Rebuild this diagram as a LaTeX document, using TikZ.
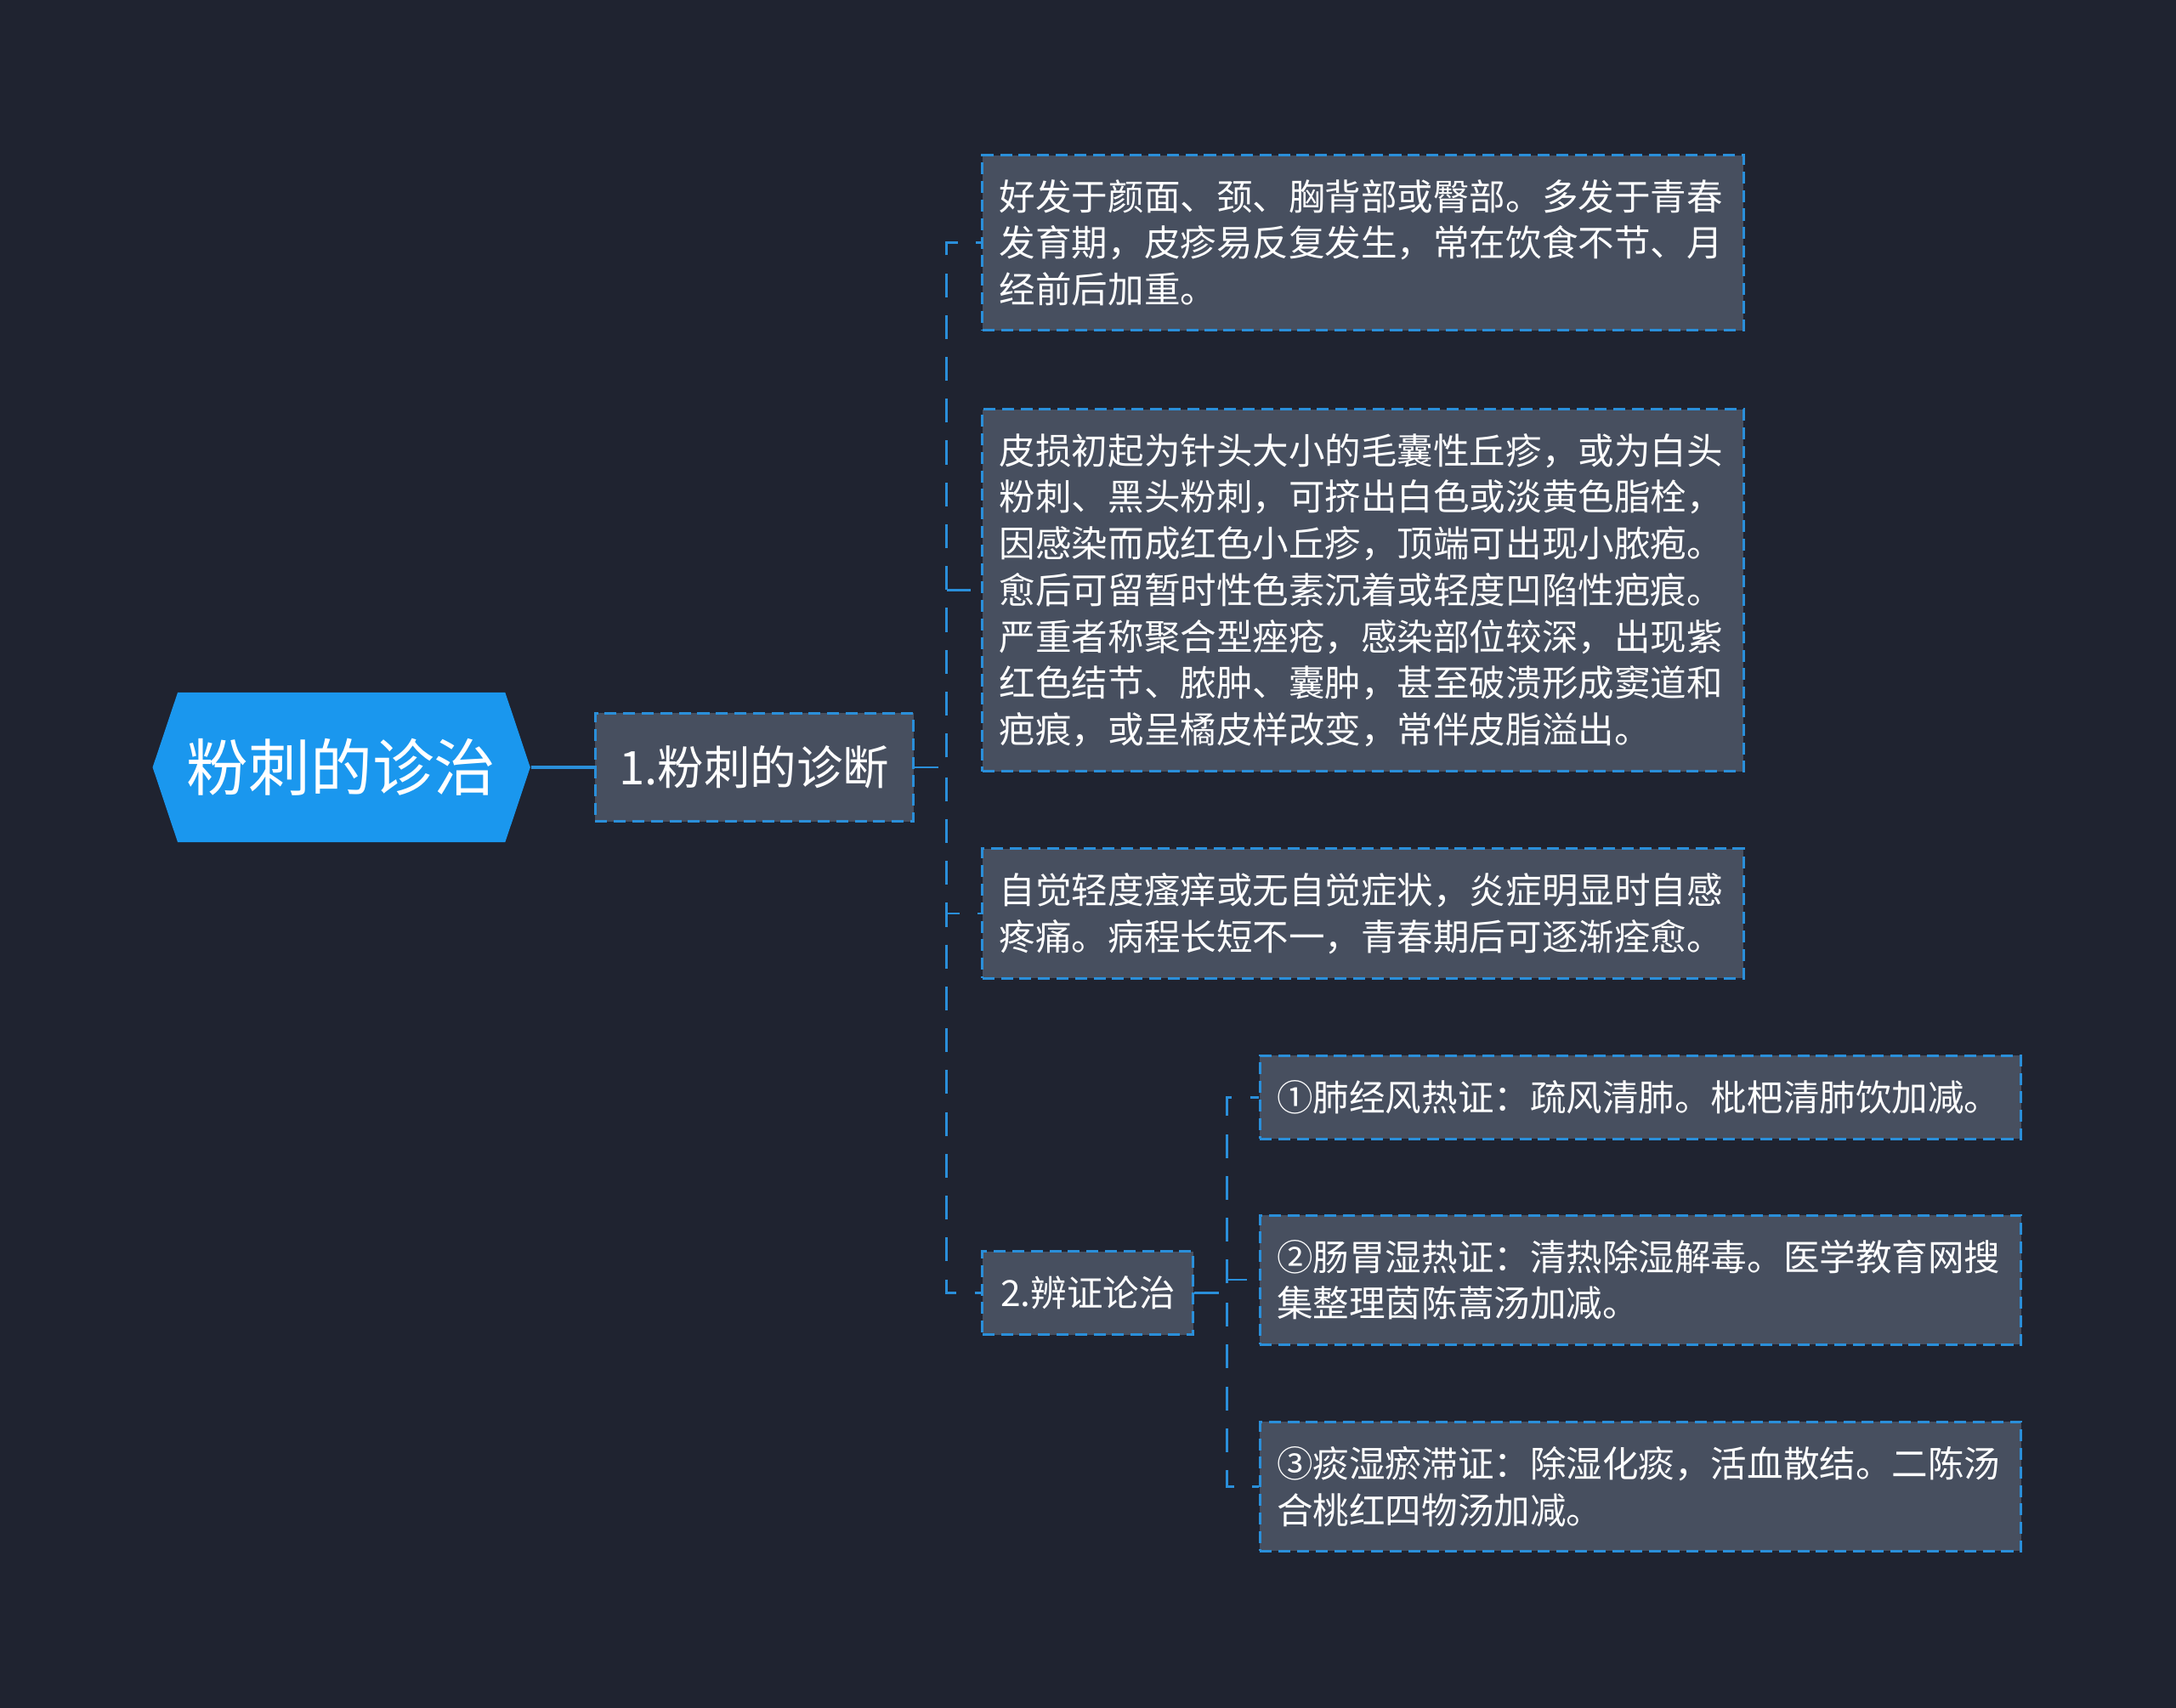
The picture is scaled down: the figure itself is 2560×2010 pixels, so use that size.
\documentclass[tikz,border=0pt]{standalone}
\usepackage{fontspec}
\setmainfont{Noto Sans CJK SC}
\usetikzlibrary{shapes.symbols}

\definecolor{bgdark}{HTML}{1F2330}
\definecolor{boxgray}{HTML}{474F5F}
\definecolor{linkblue}{HTML}{2A8FDA}
\definecolor{rootblue}{HTML}{1A97EE}

\tikzset{
  rootnode/.style={signal, signal to=west and east, signal pointer angle=143,
    fill=rootblue, text=white, minimum width=4.44cm, minimum height=1.76cm,
    inner sep=0pt, font=\fontsize{20.7pt}{24pt}\selectfont},
  topic/.style={draw=linkblue, line width=0.85pt, dash pattern=on 4pt off 2.2pt,
    fill=boxgray, text=white, inner sep=0pt},
  leaf/.style={topic, anchor=west, text width=8.55cm, inner xsep=0.2cm,
    align=left, font=\fontsize{12.1pt}{15.56pt}\selectfont},
  link/.style={draw=linkblue, line width=0.7pt, dash pattern=on 8pt off 6pt}
}

\begin{document}
\begin{tikzpicture}[x=0.01cm,y=-0.01cm]
  % background
  \fill[bgdark] (0,0) rectangle (2560,2010);
  \useasboundingbox (0,0) rectangle (2560,2010);

  % Marking root
  \node[rootnode] (root) at (401.7,903) {粉刺的诊治};

  % Marking topics
  \node[topic, minimum width=3.74cm, minimum height=1.27cm,
        font=\fontsize{15.5pt}{18pt}\selectfont] (diag) at (887.4,903) {1.粉刺的诊断};
  \node[topic, anchor=west, minimum width=2.48cm, minimum height=0.98cm,
        font=\fontsize{12.1pt}{15.56pt}\selectfont] (treat) at (1154.3,1521.7) {2.辨证论治};

  % Marking leaves of 1
  \node[leaf, minimum height=2.06cm] (site) at (1154.3,285.7)
    {好发于颜面、颈、胸背部或臀部。多发于青春\\发育期，皮疹易反复发生，常在饮食不节、月\\经前后加重。};
  \node[leaf, minimum height=4.26cm] (lesion) at (1154.3,694.7)
    {皮损初起为针头大小的毛囊性丘疹，或为白头\\粉刺、黑头粉刺，可挤出白色或淡黄色脂栓，\\因感染而成红色小丘疹，顶端可出现小脓疱。\\愈后可留暂时性色素沉着或轻度凹陷性疤痕。\\严重者称聚合型痤疮，感染部位较深，出现紫\\红色结节、脓肿、囊肿，甚至破溃形成窦道和\\疤痕，或呈橘皮样改变，常伴皮脂溢出。};
  \node[leaf, minimum height=1.52cm] (sympt) at (1154.3,1075)
    {自觉轻度瘙痒或无自觉症状，炎症明显时自感\\疼痛。病程长短不一，青春期后可逐渐痊愈。};

  % Marking leaves of 2
  \node[leaf, minimum height=0.98cm] (lung) at (1480.8,1291.4)
    {①肺经风热证：疏风清肺。枇杷清肺饮加减。};
  \node[leaf, minimum height=1.52cm] (gut) at (1480.8,1506.2)
    {②肠胃湿热证：清热除湿解毒。医学教育网搜\\集整理茵陈蒿汤加减。};
  \node[leaf, minimum height=1.52cm] (phlegm) at (1480.8,1749.4)
    {③痰湿瘀滞证：除湿化痰，活血散结。二陈汤\\合桃红四物汤加减。};

  % Drawing segments
  \coordinate (fork1) at (1113.5,903);
  \coordinate (fork2) at (1443.3,1521.7);
  \draw[draw=linkblue, line width=1.4pt] (root.east) -- (diag.west);
  \foreach \leafname in {site,lesion,sympt,treat}
    \draw[link] (diag.east) -- (fork1) |- (\leafname.west);
  \foreach \leafname in {lung,gut,phlegm}
    \draw[link] (treat.east) -- (fork2) |- (\leafname.west);
\end{tikzpicture}
\end{document}
